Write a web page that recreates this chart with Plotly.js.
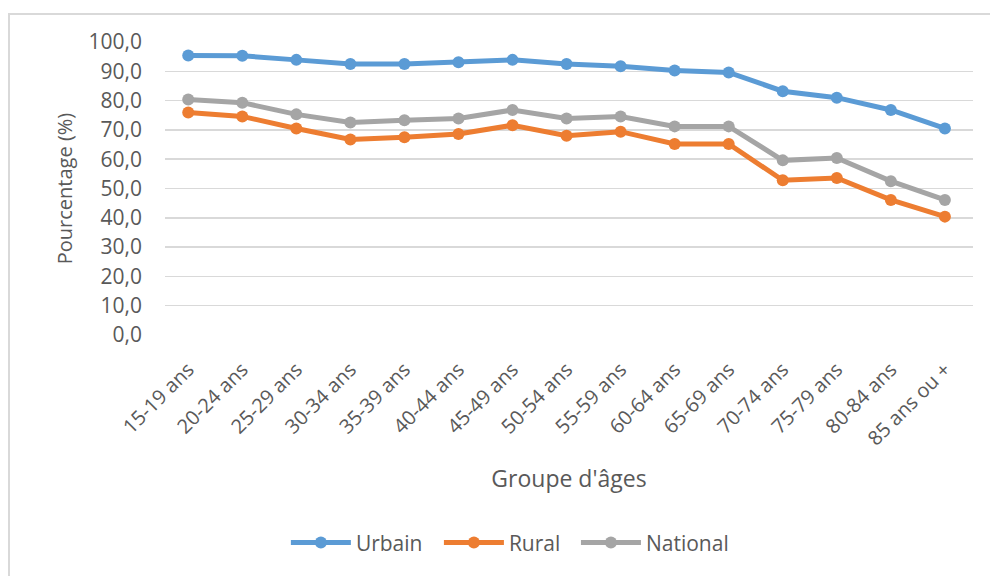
<!DOCTYPE html>
<html>
<head>
<meta charset="utf-8">
<script src="https://cdn.plot.ly/plotly-3.0.1.min.js"></script>
<style>
  html, body { margin: 0; padding: 0; background: #fff; overflow: hidden; }
  #frame { position: absolute; left: 8px; top: 13px; width: 1000px; height: 600px; border-left: 2px solid #d9d9d9; border-top: 2px solid #d9d9d9; }
  #chart { position: absolute; left: 0; top: 0; width: 990px; height: 576px; }
</style>
</head>
<body>
<div id="frame"></div>
<div id="chart"></div>
<script>
const categories = ["15-19 ans", "20-24 ans", "25-29 ans", "30-34 ans", "35-39 ans", "40-44 ans", "45-49 ans", "50-54 ans", "55-59 ans", "60-64 ans", "65-69 ans", "70-74 ans", "75-79 ans", "80-84 ans", "85 ans ou +"];
const urbain   = [95.4, 95.3, 93.9, 92.5, 92.5, 93.1, 93.9, 92.5, 91.7, 90.3, 89.6, 83.2, 81.0, 76.8, 70.5];
const rural    = [75.9, 74.6, 70.5, 66.7, 67.5, 68.6, 71.6, 68.0, 69.4, 65.2, 65.2, 52.8, 53.6, 46.1, 40.4];
const national = [80.4, 79.3, 75.3, 72.5, 73.3, 73.9, 76.8, 73.9, 74.6, 71.2, 71.2, 59.6, 60.4, 52.5, 46.1];
const seriesNames = ["Urbain", "Rural", "National"];
const colors = ["#5b9bd5", "#ed7d31", "#a5a5a5"];
const yTitle = "Pourcentage (%)";
const xTitle = "Groupe d'âges";

const FONT = "Open Sans, sans-serif";
const TXT = "#595959";
const legendIds = ["legend", "legend2", "legend3"];
const legendX = [0.1496, 0.339, 0.5086];

const traces = [urbain, rural, national].map((vals, i) => ({
  type: "scatter",
  mode: "lines+markers",
  name: seriesNames[i],
  legend: legendIds[i],
  x: categories,
  y: vals,
  line: { color: colors[i], width: 5 },
  marker: { color: colors[i], size: 12 }
}));

const layout = {
  width: 990, height: 576,
  paper_bgcolor: "rgba(0,0,0,0)",
  plot_bgcolor: "rgba(0,0,0,0)",
  margin: { l: 165, r: 17, t: 42, b: 238 },
  font: { family: FONT, color: TXT },
  separators: ",.",
  showlegend: true,
  xaxis: {
    type: "category",
    range: [-0.43, 14.52],
    showgrid: false, zeroline: false, showline: false,
    ticks: "",
    tickangle: -45,
    ticklabelstandoff: 18,
    tickfont: { family: FONT, size: 20, color: TXT },
    title: { text: xTitle, font: { family: FONT, size: 23, color: TXT }, standoff: 20 }
  },
  yaxis: {
    range: [0, 100],
    dtick: 10,
    tickformat: ".1f",
    showgrid: true, gridcolor: "#d9d9d9", gridwidth: 1.5,
    zeroline: false, showline: false, ticks: "",
    tickfont: { family: FONT, size: 21, color: TXT },
    ticklabelstandoff: 22,
    title: { text: yTitle, font: { family: FONT, size: 20, color: TXT }, standoff: 10 }
  }
};
legendIds.forEach((id, i) => {
  layout[id] = {
    orientation: "h", x: legendX[i], xanchor: "left", y: -0.709, yanchor: "middle",
    font: { family: FONT, size: 21, color: TXT },
    itemwidth: 60, bgcolor: "rgba(0,0,0,0)"
  };
});

Plotly.newPlot("chart", traces, layout, { displayModeBar: false, staticPlot: true });
</script>
</body>
</html>
